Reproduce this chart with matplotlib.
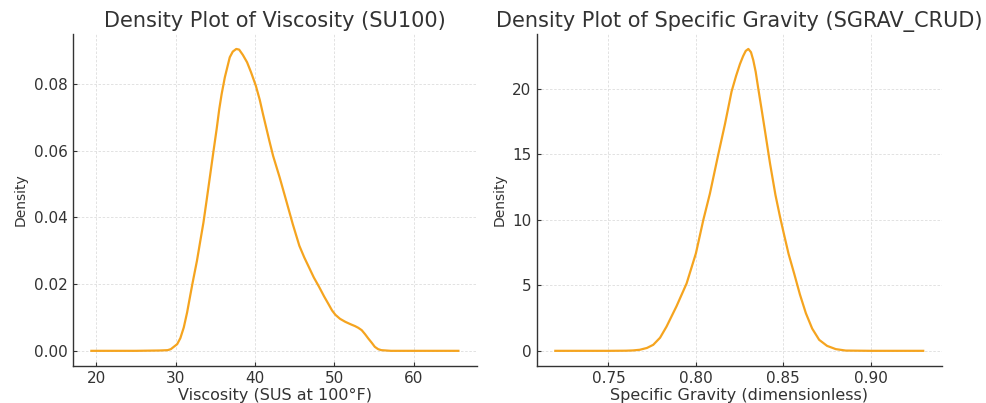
import matplotlib
matplotlib.use("Agg")
import matplotlib.pyplot as plt

plt.rcParams["font.family"] = ["DejaVu Sans"]

# Viscosity density curve
visc_x = [19.4, 25.0, 28.0, 29.0, 29.4, 30.2, 30.6, 31.03, 31.45, 31.86, 32.15, 32.69,
          33.1, 33.51, 33.9, 34.34, 34.75, 35.17, 35.5, 35.8, 36.2, 36.82, 37.2, 37.64,
          38.0, 38.47, 39.0, 39.5, 40.1, 40.6, 41.0, 41.45, 41.8, 42.27, 43.1, 43.93,
          44.75, 45.58, 46.2, 46.82, 47.4, 48.06, 48.7, 49.3, 49.7, 50.12, 50.7, 51.36,
          52.0, 52.6, 53.0, 53.43, 53.85, 54.26, 54.7, 55.08, 55.5, 55.9, 57.1, 60.0, 65.6]
visc_y = [0.0, 0.0, 0.0001, 0.0002, 0.0005, 0.002, 0.0038, 0.007, 0.0115, 0.0168, 0.0205,
          0.027, 0.0328, 0.0385, 0.045, 0.0525, 0.0595, 0.0665, 0.0725, 0.077, 0.082, 0.088,
          0.0897, 0.0905, 0.0903, 0.0887, 0.0865, 0.0835, 0.0795, 0.0752, 0.071, 0.0665,
          0.063, 0.0585, 0.052, 0.045, 0.038, 0.0315, 0.028, 0.0249, 0.022, 0.0192,
          0.0163, 0.0138, 0.0121, 0.0108, 0.0096, 0.0087, 0.008, 0.0074, 0.0069, 0.0062,
          0.005, 0.0037, 0.0024, 0.0012, 0.0005, 0.0002, 0.0, 0.0, 0.0]

# Specific gravity density curve
sg_x = [0.7196, 0.750, 0.760, 0.7640, 0.7679, 0.7720, 0.7756, 0.7795, 0.7832, 0.7889,
        0.7947, 0.8000, 0.8042, 0.8080, 0.8128, 0.8166, 0.8204, 0.8230, 0.8252, 0.8270,
        0.8285, 0.8300, 0.8315, 0.8328, 0.8342, 0.8357, 0.8375, 0.8395, 0.8424, 0.8455,
        0.8480, 0.8502, 0.8530, 0.8562, 0.8595, 0.8629, 0.8665, 0.8705, 0.8750, 0.8800,
        0.8857, 0.900, 0.930]
sg_y = [0.0, 0.0, 0.01, 0.03, 0.08, 0.22, 0.46, 1.0, 1.85, 3.4, 5.15, 7.44, 9.97, 12.0,
        15.0, 17.3, 19.8, 21.0, 21.9, 22.5, 22.9, 23.05, 22.8, 22.2, 21.3, 20.0, 18.5,
        16.8, 14.3, 11.9, 10.3, 9.0, 7.4, 5.9, 4.3, 2.87, 1.7, 0.84, 0.38, 0.13, 0.02,
        0.0, 0.0]

line_color = "#F5A41F"
text_color = "#333333"

fig = plt.figure(figsize=(9.87, 4.03), dpi=100)
ax1 = fig.add_axes([0.074, 0.092, 0.409, 0.824])
ax2 = fig.add_axes([0.544, 0.092, 0.410, 0.824])

panels = [
    (ax1, visc_x, visc_y, "Density Plot of Viscosity (SU100)", "Viscosity (SUS at 100°F)",
     [20, 30, 40, 50, 60], ["20", "30", "40", "50", "60"],
     [0.0, 0.02, 0.04, 0.06, 0.08], ["0.00", "0.02", "0.04", "0.06", "0.08"]),
    (ax2, sg_x, sg_y, "Density Plot of Specific Gravity (SGRAV_CRUD)", "Specific Gravity (dimensionless)",
     [0.75, 0.80, 0.85, 0.90], ["0.75", "0.80", "0.85", "0.90"],
     [0, 5, 10, 15, 20], ["0", "5", "10", "15", "20"]),
]

for ax, xs, ys, title, xlabel, xt, xtl, yt, ytl in panels:
    ax.plot(xs, ys, color=line_color, lw=1.6)
    ax.margins(x=0.05, y=0.05)
    ax.set_title(title, fontsize=15, color=text_color, pad=5)
    ax.set_xlabel(xlabel, fontsize=11.5, color=text_color, labelpad=1)
    ax.set_ylabel("Density", fontsize=10, color=text_color, labelpad=4)
    ax.set_xticks(xt)
    ax.set_xticklabels(xtl)
    ax.set_yticks(yt)
    ax.set_yticklabels(ytl)
    ax.tick_params(labelsize=11, colors=text_color, direction="in", length=3, width=0.8, pad=4)
    ax.grid(True, linestyle=(0, (3, 2)), color="#dddddd", linewidth=0.6)
    ax.set_axisbelow(True)
    for s in ["top", "right"]:
        ax.spines[s].set_visible(False)
    for s in ["left", "bottom"]:
        ax.spines[s].set_color("#333333")
        ax.spines[s].set_linewidth(1.0)

fig.savefig("out.png", dpi=100, facecolor="white")
